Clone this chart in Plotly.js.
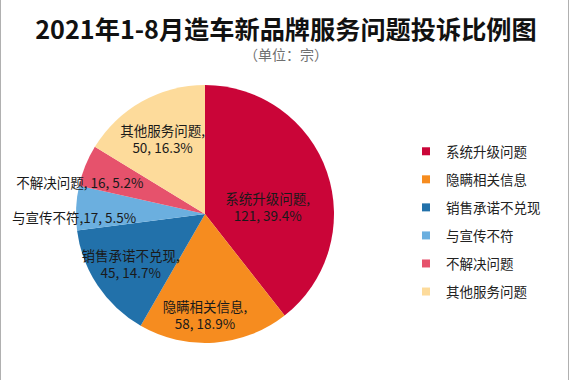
<!DOCTYPE html>
<html>
<head>
<meta charset="utf-8">
<script src="https://cdn.plot.ly/plotly-3.0.1.min.js"></script>
<style>html,body{margin:0;padding:0;background:#fff;}#chart{width:570px;height:380px;}</style>
</head>
<body>
<div id="chart"></div>
<script>
const categories = ['系统升级问题', '隐瞒相关信息', '销售承诺不兑现', '与宣传不符', '不解决问题', '其他服务问题'];
const values = [121, 58, 45, 17, 16, 50];
const colors = ['#CA0538', '#F68C1F', '#2271AA', '#6BAFDF', '#E6526C', '#FDDB9B'];
const LBL = '%{label},<br>%{value}, %{percent:.1%}';
const insideTemplatesA = ['', LBL, LBL, '', '', LBL];
const insideTemplatesB = [LBL, '', '', '', '', ''];
const outsideTemplates = ['', '', '', '%{label},%{value}, %{percent:.1%}', '%{label}, %{value}, %{percent:.1%}', ''];
const titleText = '2021年1-8月造车新品牌服务问题投诉比例图';
const subtitleText = '（单位：宗）';

const FONT = 'Noto Sans CJK SC, Noto Sans, sans-serif';
const W = 570, H = 380;

function dom(cx, cy, r) {
  return { x: [(cx - r) / W, (cx + r) / W], y: [(H - cy - r) / H, (H - cy + r) / H] };
}
function pie(domain, fill, templates, pos, extra) {
  return Object.assign({
    type: 'pie', labels: categories, values: values, sort: false, direction: 'clockwise', rotation: 0,
    marker: { colors: fill, line: { width: 0 } },
    texttemplate: templates,
    textposition: categories.map((c, i) => templates[i] ? pos : 'none'),
    insidetextorientation: 'horizontal',
    domain: domain, showlegend: false
  }, extra);
}
const clear = categories.map(() => 'rgba(0,0,0,0)');
const txtFont = { family: FONT, size: 13.5, color: '#1a1a1a' };

const traces = [
  pie(dom(205, 214, 129), colors, insideTemplatesA, 'inside', { textfont: txtFont, hoverinfo: 'label+value+percent' }),
  // transparent companion pies that only carry labels
  pie(dom(205, 228, 129), clear, insideTemplatesB, 'inside', { textfont: txtFont, hoverinfo: 'skip' }),
  pie(dom(242, 221.5, 101), clear, outsideTemplates, 'outside', { outsidetextfont: txtFont, hoverinfo: 'skip' })
];
categories.forEach((c, i) => {
  traces.push({
    type: 'scatter', mode: 'markers', x: [null], y: [null], name: c,
    legendgroup: 'g' + i, showlegend: true,
    marker: { symbol: 'square', size: 8, color: colors[i] }, hoverinfo: 'skip'
  });
});

const layout = {
  width: W, height: H,
  margin: { l: 0, r: 0, t: 0, b: 0 },
  paper_bgcolor: '#fff', plot_bgcolor: '#fff',
  xaxis: { visible: false }, yaxis: { visible: false },
  uniformtext: { mode: 'show', minsize: 13 },
  title: {
    text: '<b>' + titleText + '</b>', x: 286 / W, xanchor: 'center',
    yref: 'container', y: 1 - 30 / H, yanchor: 'middle',
    font: { family: FONT, size: 25.2, color: '#111' }
  },
  annotations: [{
    text: subtitleText, xref: 'paper', yref: 'paper', x: 286 / W, y: 1 - 54 / H,
    xanchor: 'center', yanchor: 'middle', showarrow: false,
    font: { family: FONT, size: 14, color: '#707070' }
  }],
  legend: {
    x: 406 / W, xanchor: 'left', y: 1 - 136 / H, yanchor: 'top',
    font: { family: FONT, size: 13.5, color: '#222' },
    tracegroupgap: 7.5, bgcolor: 'rgba(0,0,0,0)', itemclick: false
  },
  shapes: [
    { type: 'line', xref: 'paper', yref: 'paper', x0: 0.5 / W, x1: 0.5 / W, y0: 0, y1: 1, line: { color: '#b0b0b0', width: 1 } },
    { type: 'line', xref: 'paper', yref: 'paper', x0: 568.5 / W, x1: 568.5 / W, y0: 0, y1: 1, line: { color: '#b0b0b0', width: 1 } }
  ],
  showlegend: true
};

Plotly.newPlot('chart', traces, layout, { displayModeBar: false, staticPlot: true });
</script>
</body>
</html>
